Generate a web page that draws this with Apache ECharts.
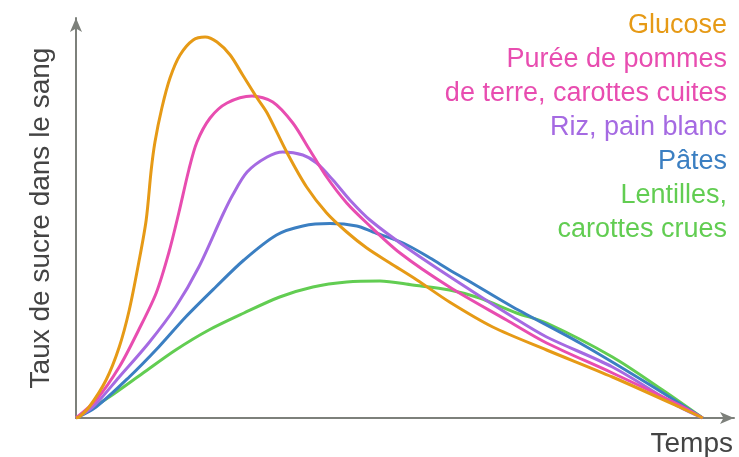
<!DOCTYPE html>
<html><head><meta charset="utf-8">
<script src="https://cdn.jsdelivr.net/npm/echarts@6/dist/echarts.min.js"></script>
<style>html,body{margin:0;padding:0;background:#fff}#c{width:739px;height:457px}</style>
</head><body><div id="c"></div>
<script>
const seriesNames = ['Glucose', 'Purée de pommes\nde terre, carottes cuites', 'Riz, pain blanc', 'Pâtes', 'Lentilles,\ncarottes crues'];
const colors = ['#e69a16', '#e84db0', '#a56ae2', '#3b7fc2', '#62cd52'];
const glucose = [[0,0],[0.5,0.25],[2.1,2.75],[4.8,9.5],[6.9,17.75],[8.5,27],[10.0,38.75],[11.2,49.5],[12.0,62],[12.6,69],[13.7,77.5],[15.0,85],[16.6,90.75],[18.7,94.5],[20.6,95.25],[22.5,94],[24.6,90.75],[26.6,85.75],[28.9,80],[30.5,76.25],[33.7,66.25],[36.8,57.75],[40.0,51.25],[43.2,46.5],[46.4,42.5],[50.1,38.75],[54.4,34.5],[59.6,29],[66.5,22.75],[75.1,17],[85.6,10.25],[96.3,2.75],[100,0]];
const puree = [[0,0],[3.2,4.5],[6.9,12.75],[10.0,22],[12.8,31.25],[14.8,41.25],[16.4,51.25],[18.0,62],[19.3,69],[21.4,75],[24.1,78.75],[28.1,80.5],[31.4,79],[34.6,73.75],[37.3,67],[40.0,60.25],[43.2,53.75],[46.4,48.75],[51.7,41.25],[59.6,32.75],[68.7,24.5],[75.1,18.75],[85.6,11.25],[96.3,3.25],[100,0]];
const riz = [[0,0],[2.7,2.75],[6.9,10.25],[11.6,18.75],[15.9,27.75],[19.6,37.75],[23.4,50.75],[25.0,55.75],[27.3,61.5],[30.5,65.25],[33.0,66.5],[36.2,65.75],[38.4,63.75],[41.0,59.5],[43.7,54.5],[46.9,49.5],[53.3,42],[61.2,33.75],[69.7,25.25],[75.1,20.25],[85.6,12.75],[96.3,2.75],[100,0]];
const pates = [[0,0],[3.2,2.75],[8.5,10.25],[13.2,17.75],[17.5,25.25],[22.3,32.75],[26.8,39.5],[32.0,45.75],[36.2,48],[40.5,48.6],[44.8,48],[47.4,46.5],[52.2,43.75],[56.5,40],[59.6,37],[62.4,34.5],[69.7,27.75],[80.4,18.75],[91.1,8.75],[100,0]];
const lentilles = [[0,0],[5.3,5.25],[10.7,11.25],[15.9,17],[21.2,22],[26.8,26.25],[32.5,30.25],[37.8,32.75],[43.2,34],[48.5,34.25],[53.7,33.25],[59.6,32],[64.4,30],[70.3,26.25],[75.1,23.75],[85.6,15.25],[93.6,7],[100,0]];
const allData = [glucose, puree, riz, pates, lentilles];
const yTitle = 'Taux de sucre dans le sang';
const xTitle = 'Temps';

const chart = echarts.init(document.getElementById('c'));
const axisCol = '#7d807b';
const font = '"Liberation Sans", Arial, sans-serif';
const legendLines = [];
seriesNames.forEach((n, i) => n.split('\n').forEach(l => legendLines.push({text: l, color: colors[i]})));
const graphics = legendLines.map((l, k) => ({
  type: 'text', x: 727, y: 26 + k * 34,
  style: {text: l.text, fill: l.color, font: '27px ' + font, textAlign: 'right', textVerticalAlign: 'middle'}
}));
graphics.push({type: 'text', x: 733, y: 444, style: {text: xTitle, fill: '#444', font: '28px ' + font, textAlign: 'right', textVerticalAlign: 'middle'}});
chart.setOption({
  animation: false,
  grid: {left: 76, right: 5, top: 18, bottom: 39},
  xAxis: {type: 'value', min: 0, max: 105, axisLabel: {show: false}, axisTick: {show: false}, splitLine: {show: false},
    axisLine: {lineStyle: {color: axisCol, width: 2}, symbol: ['none', 'arrow'], symbolSize: [9, 14]}},
  yAxis: {type: 'value', min: 0, max: 100, axisLabel: {show: false}, axisTick: {show: false}, splitLine: {show: false},
    name: yTitle, nameLocation: 'middle', nameRotate: 90, nameGap: 21,
    nameTextStyle: {fontSize: 28, color: '#444', fontFamily: font},
    axisLine: {onZero: false, lineStyle: {color: axisCol, width: 2}, symbol: ['none', 'arrow'], symbolSize: [9, 14]}},
  series: allData.map((d, i) => ({
    type: 'line', name: seriesNames[i], data: d, smooth: 0.3, showSymbol: false,
    lineStyle: {color: colors[i], width: 3}, itemStyle: {color: colors[i]}, z: 5 - i
  })),
  graphic: graphics
});
</script></body></html>
